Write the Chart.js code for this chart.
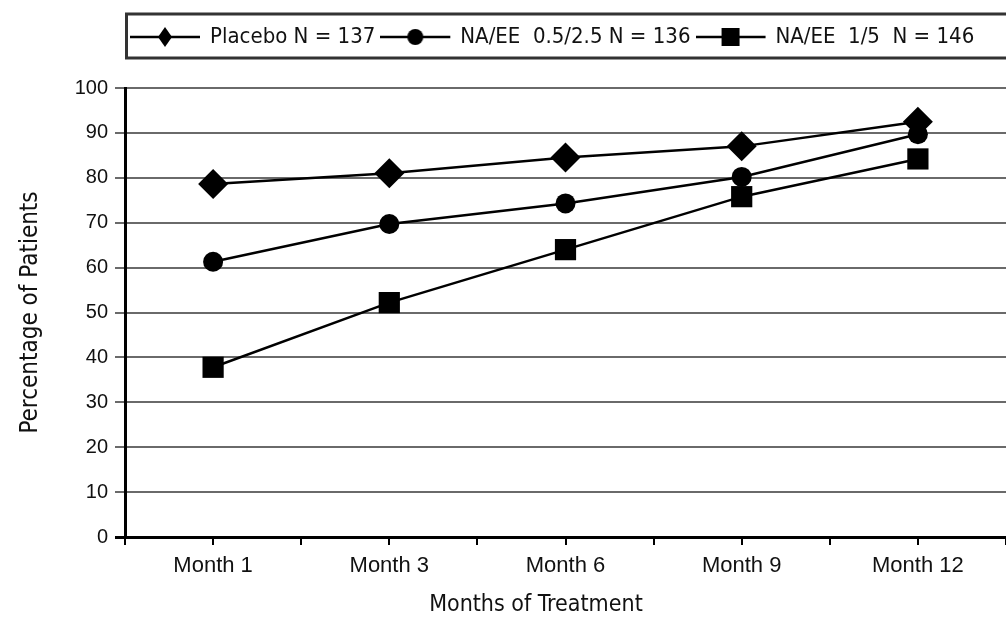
<!DOCTYPE html>
<html>
<head>
<meta charset="utf-8">
<script src="https://cdn.jsdelivr.net/npm/chart.js@4/dist/chart.umd.min.js"></script>
<style>
  html, body { margin: 0; padding: 0; background: #fff; overflow: hidden; }
  #wrap { width: 1006px; height: 622px; position: relative; }
  canvas { display: block; }
</style>
</head>
<body>
<div id="wrap"><canvas id="c"></canvas></div>
<script>
// ---- data ----
const categories = ['Month 1', 'Month 3', 'Month 6', 'Month 9', 'Month 12'];
const seriesLabels = ['Placebo N = 137', 'NA/EE  0.5/2.5 N = 136', 'NA/EE  1/5  N = 146'];
const placebo = [78.6, 81.0, 84.5, 87.0, 92.5];
const naee05 = [61.3, 69.7, 74.3, 80.2, 89.7];
const naee15 = [37.8, 52.2, 64.0, 75.8, 84.2];
const yTicks = [0, 10, 20, 30, 40, 50, 60, 70, 80, 90, 100];
const xAxisTitle = 'Months of Treatment         ';
const yAxisTitle = 'Percentage of Patients';

const NARROW = "'Liberation Sans Narrow', 'DejaVu Sans Condensed', sans-serif";
const SANS = "'Liberation Sans', Arial, sans-serif";
const INK = '#111';

const styles = ['rectRot', 'circle', 'rect'];
const radii = [15, 10, 15];

function toPoints(arr) { return arr.map((v, i) => ({ x: i, y: v })); }

// legend icons: line with marker
function makeIcon(style) {
  const c = document.createElement('canvas');
  c.width = 76; c.height = 26;
  const g = c.getContext('2d');
  g.strokeStyle = '#000'; g.lineWidth = 2.5;
  g.beginPath(); g.moveTo(0, 13); g.lineTo(70, 13); g.stroke();
  g.fillStyle = '#000';
  const cx = 35, cy = 13;
  g.beginPath();
  if (style === 'rectRot') {
    g.moveTo(cx, cy - 10); g.lineTo(cx + 7, cy); g.lineTo(cx, cy + 10); g.lineTo(cx - 7, cy); g.closePath();
  } else if (style === 'circle') {
    g.arc(cx, cy, 8, 0, Math.PI * 2);
  } else {
    g.rect(cx - 9, cy - 9, 18, 18);
  }
  g.fill();
  return c;
}
const icons = styles.map(makeIcon);

const seriesData = [placebo, naee05, naee15];
const datasets = seriesData.map((arr, i) => ({
  label: seriesLabels[i],
  data: toPoints(arr),
  borderColor: '#000',
  backgroundColor: '#000',
  borderWidth: 2.5,
  pointStyle: styles[i],
  pointRadius: radii[i],
  pointHoverRadius: radii[i],
  pointBackgroundColor: '#000',
  pointBorderColor: '#000',
  pointBorderWidth: 0,
  tension: 0,
  fill: false
}));

const legendBorder = {
  id: 'legendBorder',
  afterDraw(chart) {
    const l = chart.legend;
    if (!l) return;
    const ctx = chart.ctx;
    ctx.save();
    ctx.strokeStyle = '#333';
    ctx.lineWidth = 3;
    ctx.strokeRect(l.left + 1.5, l.top, l.width + 40, l.height);
    ctx.restore();
  }
};

new Chart(document.getElementById('c'), {
  type: 'line',
  data: { datasets },
  plugins: [legendBorder],
  options: {
    responsive: true,
    maintainAspectRatio: false,
    animation: false,
    devicePixelRatio: 1,
    layout: { autoPadding: false, padding: { top: 14, left: 0, right: 0, bottom: 0 } },
    plugins: {
      tooltip: { enabled: false },
      legend: {
        display: true,
        position: 'top',
        align: 'start',
        fullSize: false,
        labels: {
          usePointStyle: true,
          pointStyleWidth: 62,
          padding: 12,
          color: INK,
          font: { family: NARROW, size: 22 },
          generateLabels: (chart) => chart.data.datasets.map((ds, i) => ({
            text: ds.label,
            pointStyle: icons[i],
            fillStyle: '#000',
            strokeStyle: '#000',
            lineWidth: 0,
            hidden: false,
            datasetIndex: i,
            fontColor: INK
          }))
        }
      },
      subtitle: {
        display: true,
        text: '',
        position: 'top',
        weight: 500,
        fullSize: false,
        font: { size: 1, lineHeight: 1 },
        padding: { top: 29, bottom: 0 }
      }
    },
    scales: {
      x: {
        type: 'linear',
        min: -0.5,
        max: categories.length - 0.5,
        afterFit: (s) => { s.height = 85; s.paddingLeft = 0; s.paddingRight = 0; },
        afterBuildTicks: (s) => {
          const t = [];
          for (let i = 0; i <= categories.length * 2; i++) t.push({ value: -0.5 + i * 0.5 });
          s.ticks = t;
        },
        ticks: {
          autoSkip: false,
          maxRotation: 0,
          minRotation: 0,
          padding: 8,
          color: INK,
          font: { family: SANS, size: 22 },
          callback: (v) => Number.isInteger(v) ? categories[v] : ''
        },
        grid: {
          display: true,
          drawOnChartArea: false,
          drawTicks: true,
          tickLength: 8,
          color: '#000',
          lineWidth: 2
        },
        border: { display: true, color: '#000', width: 3 },
        title: {
          display: true,
          text: xAxisTitle,
          color: INK,
          font: { family: NARROW, size: 23, lineHeight: 1.2 },
          padding: { top: 0, bottom: 3 }
        }
      },
      y: {
        min: 0,
        max: 100,
        afterFit: (s) => { s.width = 125; },
        afterBuildTicks: (s) => { s.ticks = yTicks.map(v => ({ value: v })); },
        ticks: {
          padding: 7,
          color: INK,
          font: { family: SANS, size: 20 }
        },
        grid: {
          display: true,
          drawTicks: true,
          tickLength: 10,
          color: (c) => (c.tick && c.tick.value === 0) ? '#000' : '#6a6a6a',
          lineWidth: (c) => (c.tick && c.tick.value === 0) ? 3 : 2
        },
        border: { display: true, color: '#000', width: 3 },
        title: {
          display: true,
          text: yAxisTitle,
          color: INK,
          font: { family: NARROW, size: 24, lineHeight: 1.2 },
          padding: { top: 16, bottom: 0 }
        }
      }
    }
  }
});
</script>
</body>
</html>
